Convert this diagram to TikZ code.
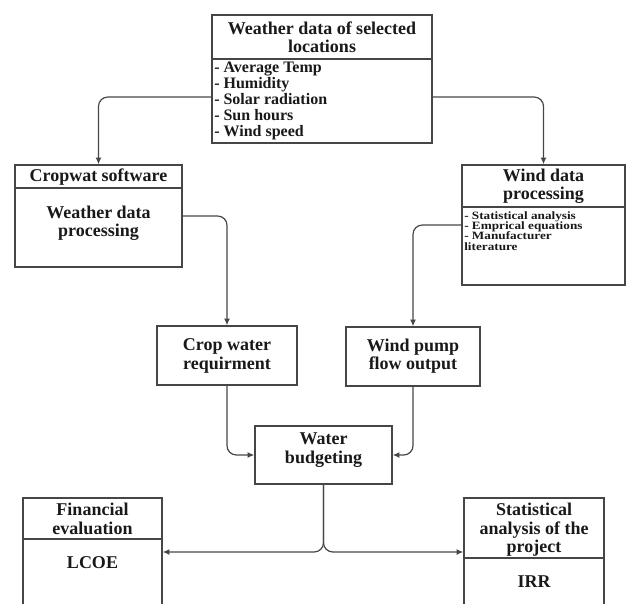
\documentclass[tikz,border=0pt]{standalone}
\usepackage{fontspec}
\setmainfont{Liberation Serif}
\newfontfamily\widefont{Liberation Serif}[FakeStretch=1.18]
\usetikzlibrary{arrows.meta,fit}
\definecolor{ln}{RGB}{70,70,70}
\definecolor{tx}{RGB}{25,25,25}
\begin{document}
\begin{tikzpicture}[x=0.75pt,y=-0.75pt,
  box/.style={draw=ln,line width=1.1pt,inner sep=0pt},
  ttl/.style={font=\fontsize{13.5}{13.8}\selectfont\bfseries,align=center,text=tx,inner sep=0pt},
  itm/.style={font=\fontsize{12}{12}\selectfont\bfseries,align=left,text=tx,inner sep=0pt,anchor=north west},
  smitm/.style={font=\widefont\fontsize{8.4}{7.8}\selectfont\bfseries,align=left,text=tx,inner sep=0pt,anchor=north west},
  conn/.style={draw=ln,line width=0.9pt,rounded corners=7pt,-{Latex[length=5pt,width=4.5pt]}},
  sep/.style={draw=ln,line width=1.1pt}]
\useasboundingbox (0,0) rectangle (627,603);
\clip (0,0) rectangle (627,603);
% top box
\node[box,fit={(212,15)(432,143)}] (wd) {};
\draw[sep] (212,59) -- (432,59);
\node[ttl] (wdt) at (322,37) {Weather data of selected\\locations};
\node[itm] (wdi) at (214,62) {- Average Temp\\- Humidity\\- Solar radiation\\- Sun hours\\- Wind speed};
% cropwat
\node[box,fit={(15,165)(182,267)}] (cw) {};
\draw[sep] (15,188) -- (182,188);
\node[ttl] (cwt) at (98.5,177) {Cropwat software};
\node[ttl] (cwb) at (98.5,223) {Weather data\\processing};
% wind data
\node[box,fit={(462,165)(625,285)}] (wdp) {};
\draw[sep] (462,207) -- (625,207);
\node[ttl] (wdpt) at (543.5,186) {Wind data\\processing};
\node[smitm] (wdpi) at (464,211) {- Statistical analysis\\- Emprical equations\\- Manufacturer\\literature};
% crop water
\node[box,fit={(157,326)(297,385)}] (cwr) {};
\node[ttl] (cwrt) at (227,356) {Crop water\\requirment};
% wind pump
\node[box,fit={(346,327)(480,386)}] (wp) {};
\node[ttl] (wpt) at (413,356) {Wind pump\\flow output};
% water budgeting
\node[box,fit={(255,426)(392,484)}] (wb) {};
\node[ttl] (wbt) at (323.5,450) {Water\\budgeting};
% financial
\node[box,fit={(23,498)(162,606)}] (fin) {};
\draw[sep] (23,539) -- (162,539);
\node[ttl] (fint) at (92.5,519) {Financial\\evaluation};
\node[ttl] (finb) at (92.5,563) {LCOE};
% statistical
\node[box,fit={(464,498)(604,606)}] (st) {};
\draw[sep] (464,558) -- (604,558);
\node[ttl] (stt) at (534,530) {Statistical\\analysis of the\\project};
\node[ttl] (stb) at (534,582) {IRR};
% connectors
\draw[conn] ([yshift=-13.5pt]wd.west) -| (cw.north);
\draw[conn] ([yshift=-13.5pt]wd.east) -| (wdp.north);
\draw[conn] (cw.east) -| (cwr.north);
\draw[conn] (wdp.west) -| (wp.north);
\draw[conn] (cwr.south) |- (wb.west);
\draw[conn] (wp.south) |- (wb.east);
\draw[conn] (wb.south) |- (fin.east);
\draw[conn] (wb.south) |- (st.west);
\end{tikzpicture}
\end{document}
